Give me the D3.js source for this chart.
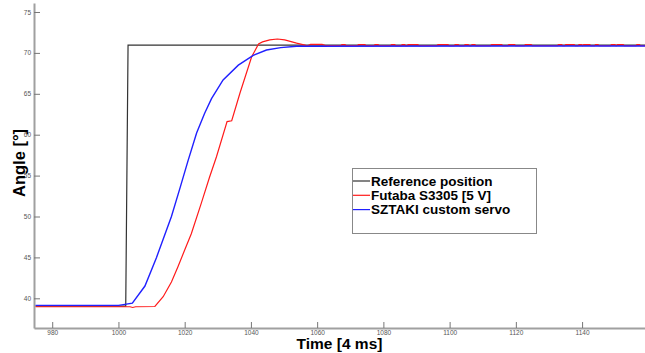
<!DOCTYPE html>
<html>
<head>
<meta charset="utf-8">
<script src="https://cdn.jsdelivr.net/npm/d3@7"></script>
<style>
  html, body { margin: 0; padding: 0; background: #fff; }
  svg { display: block; font-family: "Liberation Sans", Arial, sans-serif; }
</style>
</head>
<body>
<svg id="chart" width="645" height="353"></svg>
<script>
// tick labels
const xTicks = [980, 1000, 1020, 1040, 1060, 1080, 1100, 1120, 1140]
const yTicks = [40, 45, 50, 55, 60, 65, 70, 75]

// series as [time, angle]
const referencePos = [
  [975, 39.05], [1002.2, 39.05], [1002.9, 70.95], [1159, 70.95],
]
const futabaServo = [
  [975, 38.97], [1003.5, 38.97], [1004.3, 38.88], [1005.2, 38.97],
  [1011, 39.0], [1013.5, 40.2], [1016, 42.0], [1018, 43.9],
  [1020, 45.9], [1022, 47.9], [1025, 51.6], [1027.5, 54.8],
  [1029.6, 57.3], [1032.8, 61.6], [1034.2, 61.7], [1036.7, 65.1],
  [1040.2, 69.5], [1042.3, 71.1], [1043.5, 71.35], [1045.7, 71.6],
  [1048, 71.7], [1050.2, 71.6], [1053.8, 71.2], [1056.3, 70.95],
  [1057, 70.85], [1058, 71.05], [1061.5, 71.05], [1062.5, 70.9],
  [1067.2, 70.9], [1067.5, 71.0], [1068.4, 71.0], [1068.7, 70.9],
  [1072.2, 70.9], [1072.5, 71.0], [1074.4, 71.0], [1074.7, 70.9],
  [1077.2, 70.9], [1077.5, 71.0], [1078.4, 71.0], [1078.7, 70.9],
  [1082.2, 70.9], [1082.5, 71.0], [1083.4, 71.0], [1083.7, 70.9],
  [1085.4, 70.9], [1085.7, 71.0], [1086.4, 71.0], [1086.7, 70.9],
  [1087.2, 70.9], [1087.5, 71.0], [1090.4, 71.0], [1090.7, 70.9],
  [1096.2, 70.9], [1096.5, 71.0], [1099.5, 71.0], [1099.8, 70.9],
  [1101.4, 70.9], [1101.7, 71.0], [1102.6, 71.0], [1102.9, 70.9],
  [1104.4, 70.9], [1104.7, 71.0], [1105.6, 71.0], [1105.9, 70.9],
  [1106.5, 70.9], [1106.8, 71.0], [1107.6, 71.0], [1107.9, 70.9],
  [1112.4, 70.9], [1112.7, 71.0], [1115.7, 71.0], [1116.0, 70.9],
  [1117.6, 70.9], [1117.9, 71.0], [1119.6, 71.0], [1119.9, 70.9],
  [1122.6, 70.9], [1122.9, 71.0], [1124.6, 71.0], [1124.9, 70.9],
  [1132.6, 70.9], [1132.9, 71.0], [1133.8, 71.0], [1134.1, 70.9],
  [1134.8, 70.9], [1135.1, 71.0], [1137.6, 71.0], [1137.9, 70.9],
  [1138.8, 70.9], [1139.1, 71.0], [1139.8, 71.0], [1140.1, 70.9],
  [1140.2, 70.9], [1140.5, 71.0], [1142.3, 71.0], [1142.6, 70.9],
  [1143.8, 70.9], [1144.1, 71.0], [1144.8, 71.0], [1145.1, 70.9],
  [1148.6, 70.9], [1148.9, 71.0], [1149.9, 71.0], [1150.2, 70.9],
  [1150.4, 70.9], [1150.7, 71.0], [1152.4, 71.0], [1152.7, 70.9],
  [1156.3, 70.9], [1156.6, 71.0], [1157.3, 71.0], [1157.6, 70.9],
  [1159, 70.9],
]
const sztakiServo = [
  [975, 39.14], [1000, 39.14], [1001, 39.2], [1004.2, 39.4],
  [1008, 41.5], [1011.5, 45.0], [1016, 50.0], [1018.6, 53.5],
  [1021, 56.8], [1023.6, 60.2], [1026, 62.6], [1028.1, 64.4],
  [1031.6, 66.7], [1036.2, 68.5], [1040.7, 69.7], [1044.7, 70.35],
  [1049, 70.65], [1053.8, 70.82], [1159, 70.85],
]

const legendNames = ["Reference position", "Futaba S3305 [5 V]", "SZTAKI custom servo"]
const seriesColors = ["#333333", "#ff1a1a", "#2020ff"]

const svg = d3.select("#chart")
const padLeft = 34, padRight = 645, padTop = 3, padBottom = 328

const x = d3.scaleLinear().domain([974.5, 1159]).range([padLeft, padRight])
const y = d3.scaleLinear().domain([36.37, 76.1]).range([padBottom, padTop])

// axes, ticks pointing inward like matlab
const axisColor = "#a0a0a0"
const xAxis = svg.append("g")
  .attr("transform", `translate(0,${padBottom})`)
  .call(d3.axisBottom(x).tickValues(xTicks).tickFormat(d3.format("d"))
    .tickSizeInner(-6).tickSizeOuter(0).tickPadding(2))
const yAxis = svg.append("g")
  .attr("transform", `translate(${padLeft},0)`)
  .call(d3.axisLeft(y).tickValues(yTicks).tickFormat(d3.format("d"))
    .tickSizeInner(-6).tickSizeOuter(0).tickPadding(3))

for (const ax of [xAxis, yAxis]) {
  ax.select(".domain").attr("stroke", axisColor).attr("stroke-width", 2)
  ax.selectAll(".tick line").attr("stroke", "#777").attr("stroke-width", 1)
  ax.selectAll(".tick text")
    .attr("fill", "#555")
    .style("font-size", "6.5px")
    .style("font-family", "Liberation Sans, Arial, sans-serif")
}

// lines
const lineGen = d3.line().x(d => x(d[0])).y(d => y(d[1]))
svg.append("defs").append("clipPath").attr("id", "plotclip")
  .append("rect").attr("x", padLeft + 1).attr("y", padTop)
  .attr("width", padRight - padLeft).attr("height", padBottom - padTop - 1)

const plot = svg.append("g").attr("clip-path", "url(#plotclip)")
const allSeries = [referencePos, futabaServo, sztakiServo]
allSeries.forEach((s, i) => {
  plot.append("path")
    .datum(s)
    .attr("d", lineGen)
    .attr("fill", "none")
    .attr("stroke", seriesColors[i])
    .attr("stroke-width", i === 2 ? 1.4 : 1.2)
})

// axis titles
svg.append("text")
  .attr("x", (padLeft + padRight) / 2)
  .attr("y", 349)
  .attr("text-anchor", "middle")
  .style("font-size", "15.5px")
  .style("font-weight", "bold")
  .text("Time [4 ms]")

svg.append("text")
  .attr("transform", `translate(24.5,163) rotate(-90)`)
  .attr("text-anchor", "middle")
  .style("font-size", "16.5px")
  .style("font-weight", "bold")
  .text("Angle [°]")

// legend
const legend = svg.append("g")
legend.append("rect")
  .attr("x", 352.5).attr("y", 168.5).attr("width", 184).attr("height", 65)
  .attr("fill", "#fff").attr("stroke", "#888").attr("stroke-width", 1)

legendNames.forEach((name, i) => {
  const ly = 181 + i * 14.3
  legend.append("line")
    .attr("x1", 353).attr("x2", 370).attr("y1", ly).attr("y2", ly)
    .attr("stroke", seriesColors[i]).attr("stroke-width", 1.2)
  legend.append("text")
    .attr("x", 371).attr("y", ly + 4.8)
    .style("font-size", "13.5px")
    .style("font-weight", "bold")
    .text(name)
})
</script>
</body>
</html>
